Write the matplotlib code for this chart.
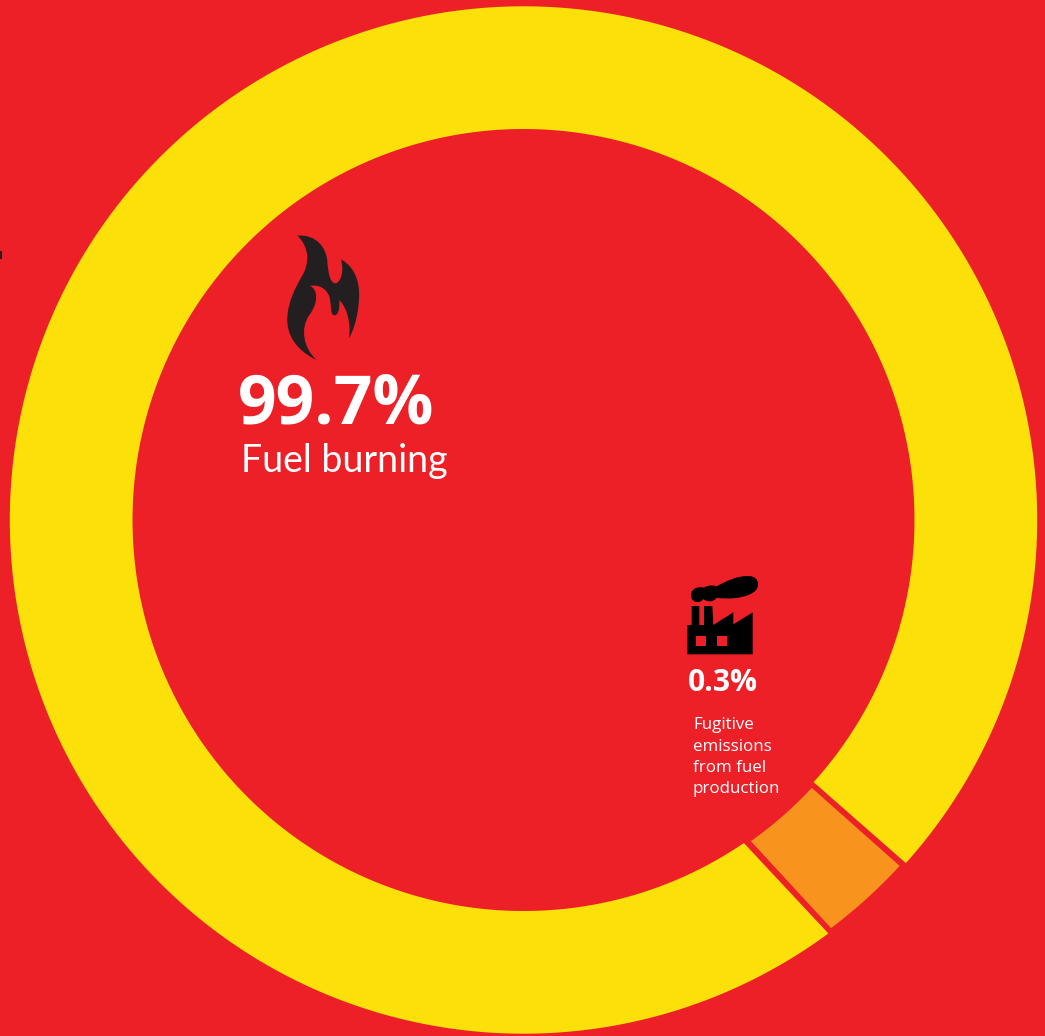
import numpy as np
import matplotlib
matplotlib.use('Agg')
import matplotlib.pyplot as plt
from matplotlib.path import Path
from matplotlib.patches import PathPatch, Rectangle

# Datos del grafico
etiquetas = ['Fuel burning', 'Fugitive\nemissions\nfrom fuel\nproduction']
porcentajes = ['99.7%', '0.3%']

# Angulos (grados, sentido horario desde el este)
ang_ext_ini = [53.6, 42.6]
ang_ext_fin = [401.9, 53.0]
ang_int_ini = [55.7, 42.9]
ang_int_fin = [402.1, 54.7]
radio_ext = [513.7, 511.0]
radio_int = [391.0, 393.5]
colores = ['#FBE00A', '#F8931D']

ROJO = '#ED2027'
cx, cy = 523.5, 520.0

fig = plt.figure(figsize=(10.45, 10.36), dpi=100, facecolor=ROJO)
ax = fig.add_axes([0, 0, 1, 1])
ax.set_xlim(0, 1045)
ax.set_ylim(1036, 0)
ax.axis('off')


def arco(r, a1, a2):
    t = np.radians(np.linspace(a1, a2, 600))
    return cx + r * np.cos(t), cy + r * np.sin(t)


# Anillo
for i in range(2):
    xe, ye = arco(radio_ext[i], ang_ext_ini[i], ang_ext_fin[i])
    xi, yi = arco(radio_int[i], ang_int_fin[i], ang_int_ini[i])
    ax.fill(np.r_[xe, xi], np.r_[ye, yi], color=colores[i], lw=0)


def icono(puntos, codigos, dx, dy, color):
    # las coordenadas vienen del recorte ampliado 3x
    v = np.array(puntos, dtype=float) / 3 + [dx, dy]
    ax.add_patch(PathPatch(Path(v, codigos), facecolor=color, lw=0))


# Llama
M, L, C = Path.MOVETO, Path.LINETO, Path.CURVE4
llama = [(82, 47), (140, 42), (170, 85), (172, 125),
         (175, 160), (180, 190), (197, 190),
         (215, 185), (222, 150), (213, 118),
         (262, 145), (272, 200), (266, 250),
         (262, 300), (248, 335), (237, 355),
         (243, 310), (232, 265), (208, 240),
         (210, 268), (204, 286), (193, 286),
         (180, 286), (184, 255), (179, 232),
         (170, 205), (145, 192), (120, 198),
         (145, 208), (145, 250), (118, 285),
         (90, 325), (100, 385), (140, 420),
         (80, 392), (48, 345), (52, 290),
         (55, 245), (75, 205), (95, 170),
         (120, 130), (118, 80), (82, 47)]
icono(llama, [M] + [C] * (len(llama) - 1), 270, 220, '#231F20')

# Fabrica
fabrica = [(52, 268), (52, 180), (65, 180), (65, 123), (88, 123), (88, 180),
           (102, 180), (102, 123), (127, 123), (130, 180), (190, 142),
           (190, 178), (248, 142), (248, 268), (52, 268)]
icono(fabrica, [M] + [L] * (len(fabrica) - 1), 670, 565, 'black')
humo = [(63, 90), (63, 68), (88, 64), (102, 68),
        (112, 60), (130, 60), (140, 64),
        (165, 50), (200, 32), (235, 33),
        (270, 33), (272, 70), (250, 82),
        (225, 100), (175, 104), (140, 98),
        (132, 112), (110, 112), (100, 102),
        (90, 116), (63, 116), (63, 90)]
icono(humo, [M] + [C] * (len(humo) - 1), 670, 565, 'black')
for x0 in [696, 717]:
    ax.add_patch(Rectangle((x0, 636), 10, 10, facecolor=ROJO, lw=0))

# Marca pequena en el borde izquierdo
ax.add_patch(Rectangle((0, 251), 1.5, 8, facecolor='#231F20', lw=0))

# Textos
fuente = 'Open Sans'
ax.text(238, 423, porcentajes[0], color='white', fontsize=48.8, fontweight='bold',
        family=fuente, va='baseline')
ax.text(241, 472, etiquetas[0], color='white', fontsize=27, family='Lato',
        va='baseline')
ax.text(688, 691, porcentajes[1], color='white', fontsize=21.6, fontweight='bold',
        family=fuente, va='baseline')
for linea, y in zip(etiquetas[1].split('\n'), [729, 751, 772, 793]):
    ax.text(693, y, linea, color='white', fontsize=12.2, family=fuente,
            va='baseline')

fig.savefig('out.png', dpi=100, facecolor=ROJO)
